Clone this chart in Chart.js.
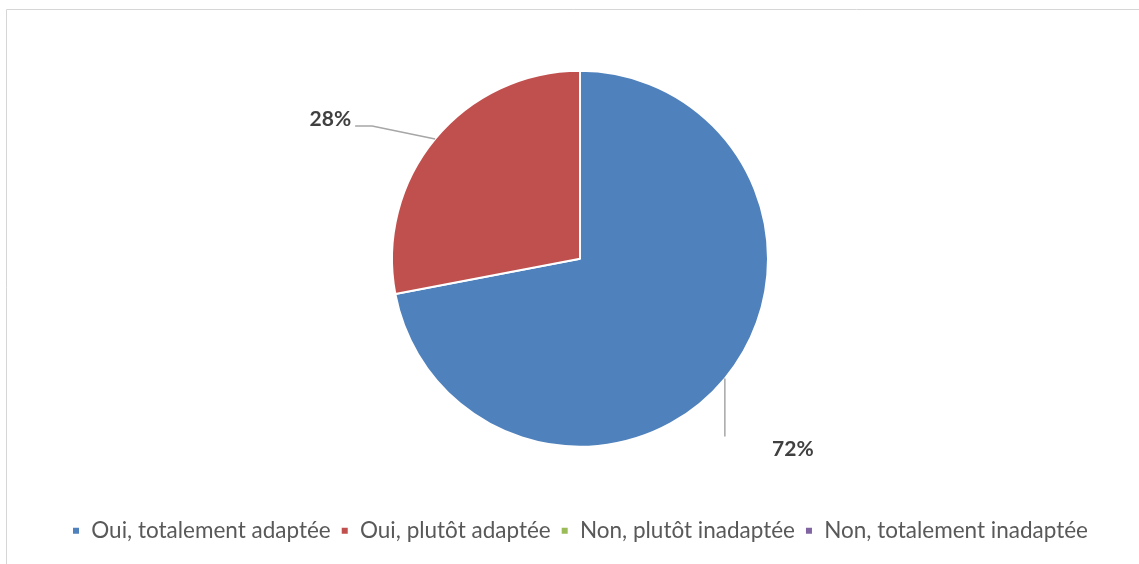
<!DOCTYPE html>
<html lang="fr">
<head>
<meta charset="utf-8">
<title>Adaptation</title>
<script src="https://cdn.jsdelivr.net/npm/chart.js@4/dist/chart.umd.min.js"></script>
<style>
  html, body { margin: 0; padding: 0; background: #fff; overflow: hidden; }
</style>
</head>
<body>
<canvas id="myChart" width="1139" height="564"></canvas>
<script>
const reponses = ['Oui, totalement adaptée', 'Oui, plutôt adaptée', 'Non, plutôt inadaptée', 'Non, totalement inadaptée'];
const pourcentages = [72, 28, 0, 0];
const couleurs = ['#4F81BD', '#C0504D', '#9BBB59', '#8064A2'];

// cadre gris clair autour du graphique
const cadre = {
  id: 'cadre',
  beforeDraw(chart) {
    const ctx = chart.ctx;
    ctx.save();
    ctx.fillStyle = '#fff';
    ctx.fillRect(0, 0, chart.width, chart.height);
    ctx.strokeStyle = '#d6d6d6';
    ctx.lineWidth = 1;
    ctx.beginPath();
    ctx.moveTo(6.5, chart.height + 5);
    ctx.lineTo(6.5, 9.5);
    ctx.lineTo(chart.width + 5, 9.5);
    ctx.stroke();
    ctx.restore();
  }
};

// étiquettes de pourcentage avec lignes de repère
const etiquettes = {
  id: 'etiquettes',
  afterDatasetsDraw(chart, args, opts) {
    const ctx = chart.ctx;
    const arcs = chart.getDatasetMeta(0).data;
    arcs.forEach((arc, i) => {
      const val = pourcentages[i];
      if (!val) return;
      const p = opts.positions[i];
      const mid = (arc.startAngle + arc.endAngle) / 2;
      const ex = arc.x + Math.cos(mid) * arc.outerRadius;
      const ey = arc.y + Math.sin(mid) * arc.outerRadius;
      ctx.save();
      ctx.strokeStyle = '#a6a6a6';
      ctx.lineWidth = 1.5;
      ctx.beginPath();
      ctx.moveTo(ex, ey);
      p.ligne.forEach(([dx, dy]) => ctx.lineTo(ex + dx, ey + dy));
      ctx.stroke();
      ctx.fillStyle = '#404040';
      ctx.font = 'bold 21px Lato';
      ctx.textAlign = p.align;
      ctx.textBaseline = 'middle';
      ctx.fillText(val + '%', ex + p.texte[0], ey + p.texte[1]);
      ctx.restore();
    });
  }
};

new Chart(document.getElementById('myChart'), {
  type: 'pie',
  data: {
    labels: reponses,
    datasets: [{
      data: pourcentages,
      backgroundColor: couleurs,
      borderColor: '#ffffff',
      borderWidth: 2
    }]
  },
  options: {
    responsive: false,
    animation: false,
    radius: 188,
    layout: { padding: { top: 8, bottom: 12, left: 21, right: 0 } },
    plugins: {
      tooltip: { enabled: false },
      legend: {
        position: 'bottom',
        labels: {
          boxWidth: 8,
          boxHeight: 8,
          padding: 10,
          color: '#595959',
          font: { family: 'Lato', size: 22.5 }
        }
      },
      etiquettes: {
        positions: [
          { ligne: [[0, 58]], texte: [68, 71], align: 'center' },
          { ligne: [[-63, -13], [-80, -13]], texte: [-84, -20], align: 'right' }
        ]
      }
    }
  },
  plugins: [cadre, etiquettes]
});
</script>
</body>
</html>
